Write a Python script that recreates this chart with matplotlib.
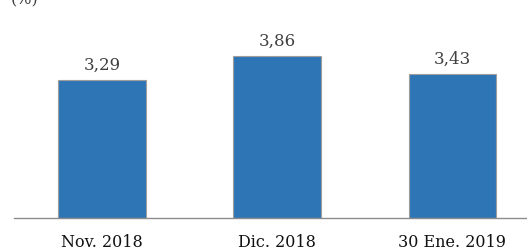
import matplotlib
matplotlib.use('Agg')
import matplotlib.pyplot as plt

categorias = ['Nov. 2018', 'Dic. 2018', '30 Ene. 2019']
valores = [3.29, 3.86, 3.43]
etiquetas = ['3,29', '3,86', '3,43']

plt.rcParams['font.family'] = ['DejaVu Serif']

fig = plt.figure(figsize=(5.27, 2.53), dpi=100)
ax = fig.add_axes([14 / 527, 34 / 253, 513 / 527, 219 / 253])

x = range(len(categorias))
ax.bar(x, valores, width=0.5, color='#2E75B6', edgecolor='#9E9E9E', linewidth=0.8, zorder=2)

for xi, v, t in zip(x, valores, etiquetas):
    ax.text(xi, v + 0.16, t, ha='center', va='bottom', fontsize=12, color='#404040')

ax.set_xlim(-0.503, 2.426)
ax.set_ylim(0, 5.21)
ax.set_xticks(list(x))
ax.set_xticklabels(categorias, fontsize=11.5, color='#111111')
ax.tick_params(axis='x', length=0, pad=11)
ax.set_yticks([])
for s in ['top', 'right', 'left']:
    ax.spines[s].set_visible(False)
ax.spines['bottom'].set_color('#8C8C8C')
ax.spines['bottom'].set_linewidth(1.0)

fig.text(0.02, 1.0, '(%)', fontsize=11.5, color='#404040', ha='left', va='center')

fig.savefig('out.png', dpi=100)
